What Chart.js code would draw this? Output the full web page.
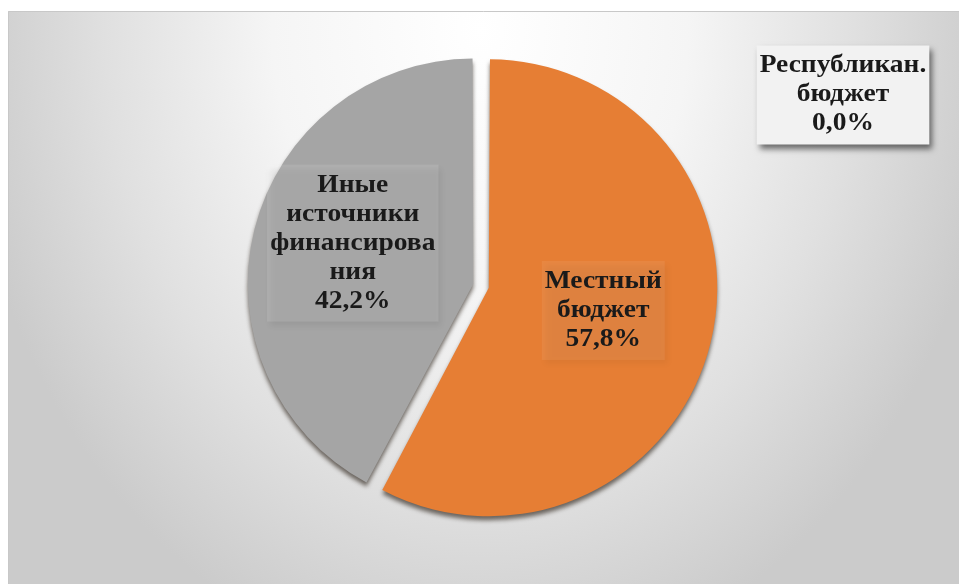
<!DOCTYPE html>
<html>
<head>
<meta charset="utf-8">
<script src="https://cdn.jsdelivr.net/npm/chart.js@4"></script>
<style>
  html, body { margin: 0; padding: 0; background: #fff; }
  #wrap { width: 959px; height: 584px; }
</style>
</head>
<body>
<div id="wrap"><canvas id="myPieChart" width="959" height="584"></canvas></div>
<script>
// data
const categories = ['Местный бюджет', 'Иные источники финансирования', 'Республикан. бюджет'];
const labelLines = [['Местный', 'бюджет'], ['Иные', 'источники', 'финансирова', 'ния'], ['Республикан.', 'бюджет']];
const shares = [57.8, 42.2, 0.0];
const colors = ['#E67E34', '#A5A5A5', '#4472C4'];

// background: white page with a grey radial-gradient chart area
const bgPlugin = {
  id: 'bg',
  beforeDraw(chart) {
    const ctx = chart.ctx;
    ctx.save();
    ctx.fillStyle = '#ffffff';
    ctx.fillRect(0, 0, chart.width, chart.height);
    ctx.beginPath();
    ctx.rect(8, 11, chart.width - 8, chart.height - 11);
    ctx.clip();
    ctx.translate(480, 30);
    ctx.scale(1, 1.25);
    const g = ctx.createRadialGradient(0, 0, 0, 0, 0, 520);
    g.addColorStop(0, '#ffffff');
    g.addColorStop(0.4, '#f5f5f5');
    g.addColorStop(0.72, '#e0e0e0');
    g.addColorStop(1, '#cbcbcb');
    ctx.fillStyle = g;
    ctx.fillRect(-600, -100, 1200, 600);
    ctx.restore();
    ctx.save();
    ctx.strokeStyle = '#c8c8c8';
    ctx.lineWidth = 1;
    ctx.beginPath();
    ctx.moveTo(8.5, chart.height);
    ctx.lineTo(8.5, 11.5);
    ctx.lineTo(chart.width, 11.5);
    ctx.stroke();
    ctx.restore();
  }
};

// soft shadow under the slices
const shadowPlugin = {
  id: 'sliceShadow',
  beforeDatasetDraw(chart) {
    const ctx = chart.ctx;
    ctx.save();
    ctx.shadowColor = 'rgba(30,20,10,0.6)';
    ctx.shadowBlur = 4;
    ctx.shadowOffsetX = 0;
    ctx.shadowOffsetY = 4;
  },
  afterDatasetDraw(chart) {
    chart.ctx.restore();
  }
};

// boxed data labels
const boxLabels = {
  id: 'boxLabels',
  afterDatasetsDraw(chart, args, opts) {
    const ctx = chart.ctx;
    const meta = chart.getDatasetMeta(0);
    const values = chart.data.datasets[0].data;
    const sx = opts.stretch;
    ctx.save();
    ctx.font = opts.font;
    ctx.textAlign = 'center';
    ctx.textBaseline = 'middle';
    values.forEach((v, i) => {
      let x, y;
      if (v > 0) {
        const p = meta.data[i].tooltipPosition();
        x = p.x + opts.nudge[i][0];
        y = p.y + opts.nudge[i][1];
      } else {
        x = opts.zeroPos[0];
        y = opts.zeroPos[1];
      }
      const lines = labelLines[i].concat([v.toFixed(1).replace('.', ',') + '%']);
      const w = Math.max(...lines.map(l => ctx.measureText(l).width)) * sx + opts.padX * 2;
      const h = lines.length * opts.lineHeight + opts.padY * 2;
      ctx.save();
      ctx.shadowColor = 'rgba(0,0,0,0.55)';
      ctx.shadowBlur = 6;
      ctx.shadowOffsetX = 3;
      ctx.shadowOffsetY = 4;
      ctx.fillStyle = opts.fills[i];
      ctx.fillRect(x - w / 2, y - h / 2, w, h);
      ctx.restore();
      ctx.fillStyle = '#1a1a1a';
      lines.forEach((l, k) => {
        ctx.save();
        ctx.translate(x, y - h / 2 + opts.padY + opts.lineHeight * (k + 0.5));
        ctx.scale(sx, 1);
        ctx.fillText(l, 0, 0);
        ctx.restore();
      });
    });
    ctx.restore();
  }
};

const ctx = document.getElementById('myPieChart');

new Chart(ctx, {
  type: 'pie',
  data: {
    labels: categories,
    datasets: [{
      data: shares,
      backgroundColor: colors,
      borderWidth: 0,
      offset: [30, 34, 0],
      hoverOffset: 0
    }]
  },
  options: {
    responsive: false,
    animation: false,
    devicePixelRatio: 1,
    layout: { padding: { top: 48, bottom: 60, left: 11, right: 7 } },
    events: [],
    plugins: {
      legend: { display: false },
      tooltip: { enabled: false },
      boxLabels: {
        font: 'bold 25px "Liberation Serif", "Times New Roman", serif',
        lineHeight: 29,
        padX: 3,
        padY: 6,
        stretch: 1.1,
        nudge: [[0, -6], [-5, -12], [0, 0]],
        zeroPos: [843, 95],
        fills: ['rgba(255,240,225,0.08)', 'rgba(255,255,255,0.12)', '#f2f2f2']
      }
    }
  },
  plugins: [bgPlugin, shadowPlugin, boxLabels]
});
</script>
</body>
</html>
